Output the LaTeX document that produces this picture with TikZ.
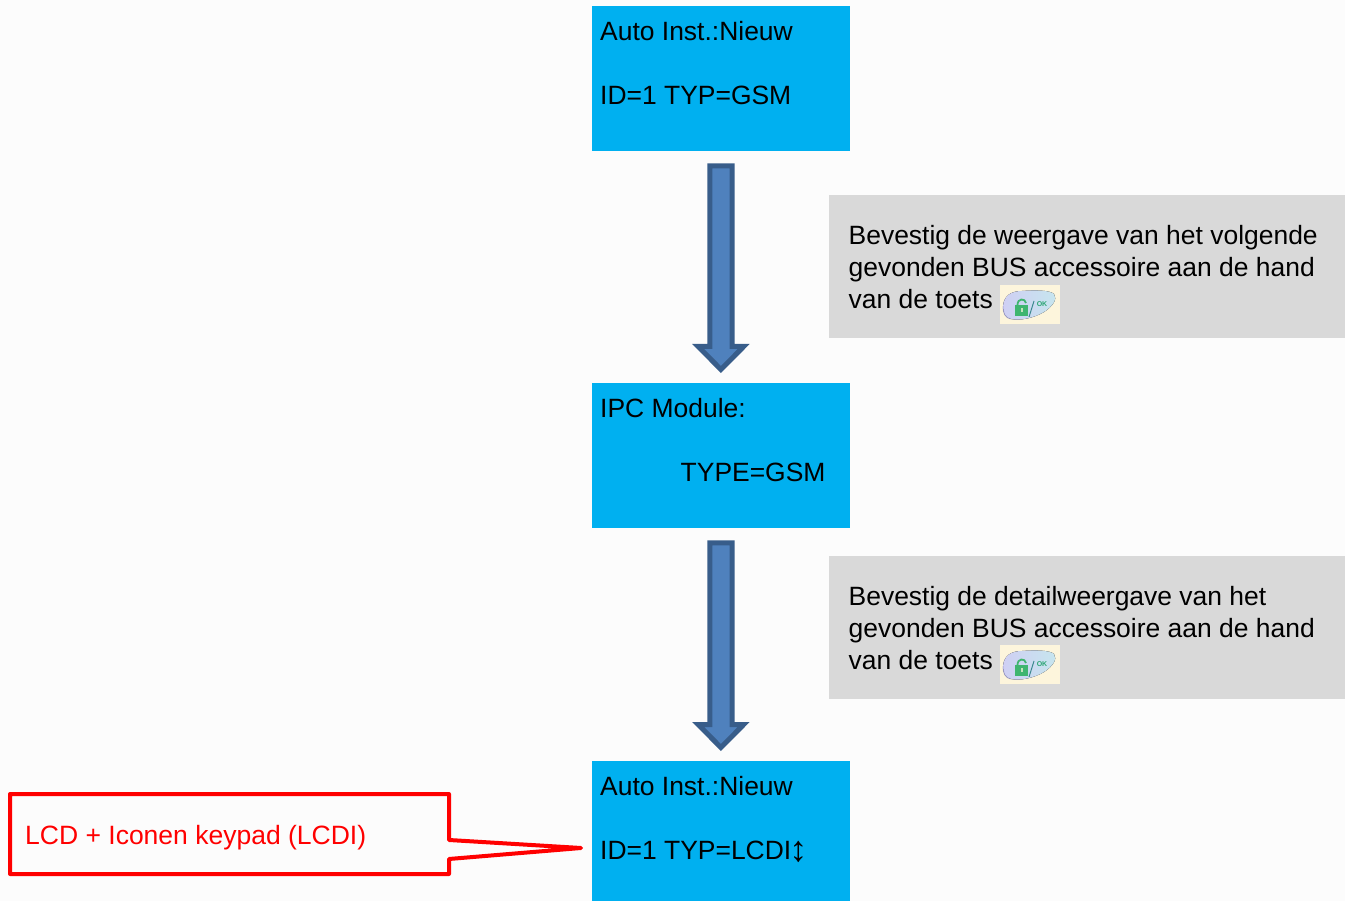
\documentclass[tikz,border=0pt]{standalone}
\usepackage{fontspec}
\setmainfont{Liberation Sans}
\usetikzlibrary{calc}
\definecolor{pagebg}{HTML}{FCFCFC}
\definecolor{lcdblue}{HTML}{00B0F0}
\definecolor{notegrey}{HTML}{D9D9D9}
\definecolor{arrowfill}{HTML}{4F81BD}
\definecolor{arrowline}{HTML}{385D8A}
\definecolor{iconbg}{HTML}{FDF5DC}
\definecolor{iconblob}{HTML}{CFCFF3}
\definecolor{iconblobb}{HTML}{C6E6EE}
\definecolor{icongreen}{HTML}{3FB56F}
\newcommand{\difont}{\fontsize{26.45}{32}\selectfont}
\tikzset{
  x=1pt,y=-1pt,
  lcdbox/.style={fill=lcdblue,draw=none,inner sep=0pt,minimum width=258pt,anchor=north west},
  notebox/.style={fill=notegrey,draw=none,inner sep=0pt,minimum width=516pt,minimum height=143pt,anchor=north west},
  lbl/.style={font=\difont,anchor=base west,inner sep=0pt,align=left,text=black},
  blockarrow/.style={fill=arrowfill,draw=arrowline,line width=5pt,miter limit=10},
  callout/.style={draw=red,line width=4pt,line join=round,fill=none},
  pics/okicon/.style={code={
    \fill[iconbg] (0,0) rectangle (60,39);
    \fill[left color=iconblob,right color=iconblobb]
      (3,21) .. controls (4,10) and (12,6) .. (22,6)
      .. controls (34,5) and (50,5) .. (54,9)
      .. controls (58,14) and (52,22) .. (44,27)
      .. controls (34,33) and (20,36) .. (11,34)
      .. controls (5,33) and (3,28) .. (3,21) -- cycle;
    \draw[iconblob!70!blue!60!gray,line width=1pt,opacity=.45]
      (3,21) .. controls (3,28) and (5,33) .. (11,34);
    \fill[icongreen] (15,20) rectangle (28,31);
    \draw[icongreen,line width=1.8pt] (17.5,20) .. controls (17.5,13) and (25,13) .. (26,18);
    \fill[iconbg!70!icongreen] (20.5,23) rectangle (22.5,27);
    \draw[teal!80!black,line width=1pt,opacity=.7] (34,16) -- (29,32);
    \node[inner sep=0pt,text=icongreen!70!teal,font=\fontsize{7}{8}\selectfont\bfseries] at (42,19) {OK};
  }}
}
\newcommand{\flowarrow}[2]{%
  \path let \p1=($(#1.south)+(0,14.5)$), \p2=($(#2.north)+(0,-13.5)$) in
    node[inner sep=0pt,minimum size=0pt] (#1-#2) at (\p1) {}
    [blockarrow,draw=arrowline,fill=arrowfill]
    (\x1-11.3pt,\y1) -- (\x1+11pt,\y1) -- (\x1+11pt,\y2+23pt) -- (\x1+22.5pt,\y2+23pt)
    -- (\x2-0.3pt,\y2) -- (\x1-23pt,\y2+23pt) -- (\x1-11.3pt,\y2+23pt) -- cycle;
}
\begin{document}
\begin{tikzpicture}
\useasboundingbox (0,0) rectangle (1345,901);
\fill[pagebg] (0,0) rectangle (1345,901);

% LCD boxes
\node[lcdbox,minimum height=145pt] (boxa) at (592,6) {};
\node[lcdbox,minimum height=145pt] (boxb) at (592,383) {};
\node[lcdbox,minimum height=140pt] (boxc) at (592,761) {};

\node[lbl] (ta1) at (600,41) {Auto Inst.:Nieuw};
\node[lbl] (ta2) at (600,105) {ID=1 TYP=GSM};
\node[lbl] (tb1) at (600,417.5) {IPC Module:};
\node[lbl] (tb2) at (680.5,482) {TYPE=GSM};
\node[lbl] (tc1) at (600,795.5) {Auto Inst.:Nieuw};
\node[lbl] (tc2) at (600,859.5) {ID=1 TYP=LCDI\kern-2pt\raisebox{-1.5pt}{\fontsize{36}{32}\selectfont ↕}};

% block arrows
\flowarrow{boxa}{boxb}
\flowarrow{boxb}{boxc}

% grey notes
\node[notebox] (notea) at (829,195) {};
\node[notebox] (noteb) at (829,556) {};
\node[lbl] (na1) at (848.5,245) {Bevestig de weergave van het volgende};
\node[lbl] (na2) at (848.5,277) {gevonden BUS accessoire aan de hand};
\node[lbl] (na3) at (848.5,309) {van de toets};
\node[lbl] (nb1) at (848.5,605.5) {Bevestig de detailweergave van het};
\node[lbl] (nb2) at (848.5,637.5) {gevonden BUS accessoire aan de hand};
\node[lbl] (nb3) at (848.5,669.5) {van de toets};
\pic at (1000,285) {okicon};
\pic at (1000,645) {okicon};

% red callout
\draw[callout] (10,794) -- (449,794) -- (449,840) -- (581,848) -- (449,859) -- (449,874) -- (10,874) -- cycle;
\node[lbl,text=red,font=\fontsize{26.5}{32}\selectfont] (lcdi) at (25,844) {LCD + Iconen keypad (LCDI)};
\end{tikzpicture}
\end{document}
